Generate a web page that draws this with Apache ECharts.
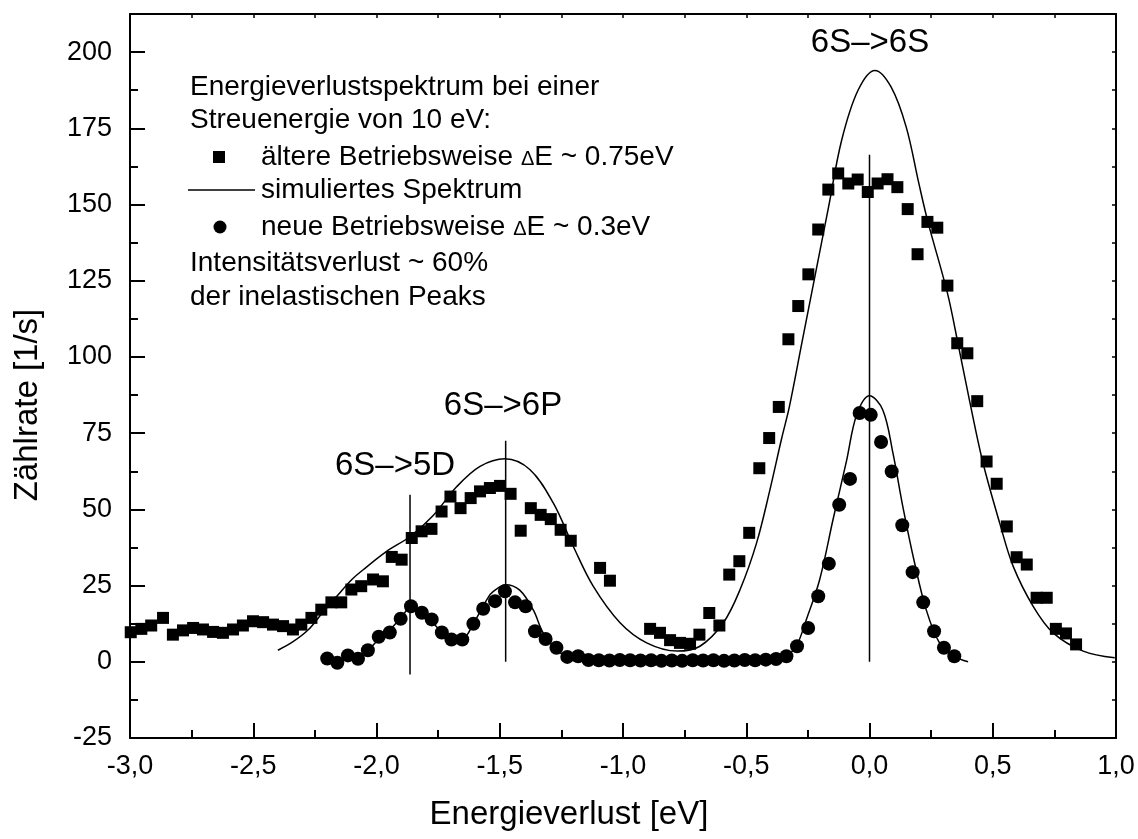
<!DOCTYPE html>
<html>
<head>
<meta charset="utf-8">
<script src="https://cdn.jsdelivr.net/npm/echarts@6.0.0/dist/echarts.min.js"></script>
<style>
  html, body { margin: 0; padding: 0; background: #ffffff; }
  #chart { width: 1138px; height: 839px; }
</style>
</head>
<body>
<div id="chart"></div>
<script>
// Messpunkte, ältere Betriebsweise (ΔE ~ 0.75 eV), Quadrate
const oldX = [-2.997, -2.954, -2.914, -2.866, -2.826, -2.785, -2.744, -2.704, -2.663, -2.623,
  -2.582, -2.542, -2.501, -2.460, -2.420, -2.379, -2.339, -2.305, -2.264, -2.224,
  -2.183, -2.143, -2.102, -2.062, -2.014, -1.974, -1.938, -1.898, -1.857, -1.817,
  -1.777, -1.736, -1.700, -1.659, -1.618, -1.580, -1.540, -1.499, -1.456, -1.415,
  -1.374, -1.334, -1.293, -1.253, -1.212, -1.093, -1.053, -0.890, -0.850, -0.809,
  -0.769, -0.728, -0.690, -0.650, -0.609, -0.569, -0.528, -0.488, -0.447, -0.407,
  -0.368, -0.329, -0.289, -0.248, -0.208, -0.167, -0.127, -0.086, -0.048, -0.007,
  0.033, 0.073, 0.113, 0.155, 0.195, 0.235, 0.275, 0.316, 0.356, 0.397,
  0.437, 0.475, 0.516, 0.557, 0.597, 0.638, 0.678, 0.719, 0.756, 0.797, 0.838];
const oldY = [9.7, 10.8, 11.9, 14.4, 8.9, 10.3, 11.1, 10.6, 9.8, 9.5,
  10.6, 11.9, 13.3, 13.0, 12.2, 11.7, 10.6, 12.2, 14.4, 17.1,
  19.5, 19.5, 23.7, 24.8, 27.0, 26.4, 34.4, 33.5, 40.6, 42.8,
  43.6, 49.3, 54.2, 50.4, 53.7, 55.9, 57.0, 57.7, 55.1, 43.0,
  50.4, 48.2, 46.8, 43.3, 39.7, 30.8, 26.6, 10.8, 9.5, 7.1,
  6.2, 5.9, 8.9, 16.0, 11.9, 28.6, 33.0, 42.3, 63.5, 73.4,
  83.6, 105.8, 116.7, 127.1, 141.8, 154.9, 160.2, 156.9, 158.2, 154.1,
  156.9, 158.3, 155.7, 148.5, 133.7, 144.3, 142.4, 123.4, 104.5, 101.2,
  85.5, 65.7, 58.4, 44.4, 34.3, 31.9, 21.0, 21.0, 10.8, 9.3, 5.7];

// Messpunkte, neue Betriebsweise (ΔE ~ 0.3 eV), Kreise
const newX = [-2.200, -2.159, -2.116, -2.075, -2.035, -1.991, -1.946, -1.902, -1.860, -1.816,
  -1.776, -1.735, -1.696, -1.652, -1.607, -1.567, -1.519, -1.479, -1.438, -1.395,
  -1.357, -1.314, -1.270, -1.226, -1.182, -1.140, -1.098, -1.055, -1.013, -0.971,
  -0.929, -0.886, -0.844, -0.802, -0.760, -0.717, -0.675, -0.633, -0.590, -0.548,
  -0.506, -0.464, -0.421, -0.379, -0.337, -0.294, -0.249, -0.208, -0.165, -0.123,
  -0.079, -0.040, 0.005, 0.047, 0.090, 0.133, 0.175, 0.218, 0.262, 0.302, 0.344];
const newY = [1.1, -0.3, 2.1, 1.0, 3.8, 8.2, 9.6, 14.1, 18.2, 16.1,
  13.9, 9.6, 7.3, 7.3, 12.5, 17.4, 19.9, 23.1, 19.5, 18.2,
  10.0, 7.5, 4.6, 1.6, 1.8, 0.6, 0.5, 0.4, 0.6, 0.5,
  0.4, 0.5, 0.3, 0.4, 0.3, 0.5, 0.4, 0.5, 0.3, 0.4,
  0.6, 0.5, 0.7, 0.9, 1.8, 5.1, 11.1, 21.5, 32.2, 51.5,
  60.0, 81.6, 81.0, 72.1, 62.4, 44.8, 29.4, 19.5, 10.0, 4.6, 1.8];

// simuliertes Spektrum zur älteren Betriebsweise
const simOldX = [-2.400, -2.340, -2.278, -2.220, -2.161, -2.100, -2.054, -1.959, -1.864, -1.770,
  -1.675, -1.580, -1.479, -1.377, -1.283, -1.202, -1.121, -1.012, -0.904, -0.780,
  -0.688, -0.593, -0.525, -0.458, -0.404, -0.356, -0.325, -0.272, -0.219, -0.166,
  -0.113, -0.047, 0.022, 0.088, 0.149, 0.200, 0.237, 0.316, 0.360, 0.405,
  0.459, 0.530, 0.583, 0.664, 0.745, 0.867, 0.995];
const simOldY = [3.8, 6.5, 10.4, 16.0, 21.5, 27.0, 30.2, 36.2, 41.1, 48.0,
  57.4, 64.1, 66.6, 63.0, 52.1, 37.9, 24.8, 12.8, 6.2, 3.5,
  5.1, 12.8, 23.7, 39.0, 56.4, 73.4, 83.7, 105.6, 127.4, 149.2,
  171.1, 187.4, 194.0, 188.5, 175.4, 157.0, 144.3, 121.0, 104.0, 86.0,
  65.7, 45.0, 31.3, 18.2, 9.5, 3.5, 1.3];

// simuliertes Spektrum zur neuen Betriebsweise
const simNewX = [-2.200, -2.120, -2.040, -1.990, -1.940, -1.900, -1.860, -1.820, -1.780, -1.735,
  -1.690, -1.650, -1.607, -1.548, -1.527, -1.476, -1.419, -1.364, -1.324, -1.270,
  -1.229, -1.180, -1.100, -0.900, -0.700, -0.500, -0.380, -0.337, -0.297, -0.256,
  -0.202, -0.147, -0.093, -0.052, 0.000, 0.054, 0.095, 0.135, 0.183, 0.230,
  0.284, 0.345, 0.400];
const simNewY = [0.5, 1.0, 3.5, 7.5, 11.0, 14.5, 18.0, 16.5, 13.5, 9.8,
  7.3, 7.5, 12.5, 21.0, 23.0, 25.3, 23.5, 17.0, 9.5, 4.0,
  1.8, 0.8, 0.4, 0.4, 0.4, 0.5, 0.9, 2.0, 5.1, 13.9,
  27.0, 47.0, 66.0, 81.0, 87.3, 82.6, 68.5, 51.0, 32.4, 17.1,
  6.2, 1.8, 0.0];

// Lage der Übergänge (senkrechte Markierungen)
const peakNames = ['6S\u2013>5D', '6S\u2013>6P', '6S\u2013>6S'];
const peakPos = [-1.864, -1.476, 0.0];
const peakLineBottom = [-4.2, 0.0, 0.0];
const peakLineTop = [54.8, 72.5, 166.3];

// Achsen
const xMin = -3, xMax = 1, xStep = 0.5;
const yMin = -25, yMax = 212.5, yStep = 25;

const FONT = '"Liberation Sans", Arial, Helvetica, sans-serif';
const zip = (xs, ys) => xs.map((x, i) => [x, ys[i]]);
const isMult = (v, step) => Math.abs(v / step - Math.round(v / step)) < 1e-6;
const fmtX = v => isMult(v, xStep) ? (Math.round(v * 10) / 10).toFixed(1).replace('.', ',') : '';
const fmtY = v => isMult(v, yStep) ? String(Math.round(v)) : '';

const black = '#000000';
const axisLine = { show: true, onZero: false, lineStyle: { color: black, width: 2 } };

const vlineSeries = peakPos.map((x, i) => ({
  type: 'line',
  xAxisIndex: 0, yAxisIndex: 0,
  data: [[x, peakLineBottom[i]], [x, peakLineTop[i]]],
  symbol: 'none',
  lineStyle: { color: black, width: 1.5 },
  silent: true, z: 2
}));

// Text der Beschriftung links oben
const legendLines = [
  { kind: 'text', text: 'Energieverlustspektrum bei einer', y: 87 },
  { kind: 'text', text: 'Streuenergie von 10 eV:', y: 120 },
  { kind: 'square', text: '{t|\u00e4ltere Betriebsweise }{d|\u0394}{t|E ~ 0.75eV}', y: 157 },
  { kind: 'line', text: 'simuliertes Spektrum', y: 190 },
  { kind: 'circle', text: '{t|neue Betriebsweise }{d|\u0394}{t|E ~ 0.3eV}', y: 227 },
  { kind: 'text', text: 'Intensit\u00e4tsverlust ~ 60%', y: 263 },
  { kind: 'text', text: 'der inelastischen Peaks', y: 297 }
];

const legendFont = 28;
const graphics = [];
legendLines.forEach(l => {
  const rich = l.kind === 'square' || l.kind === 'circle';
  const tx = l.kind === 'text' ? 190 : 261;
  graphics.push({
    type: 'text', x: tx, y: rich ? l.y - 2 : l.y, silent: true,
    style: {
      text: l.text, fontSize: legendFont, fontFamily: FONT, fill: black,
      align: 'left', verticalAlign: 'middle',
      rich: {
        t: { fontSize: legendFont, fontFamily: FONT, fill: black, lineHeight: 32, verticalAlign: 'bottom' },
        d: { fontSize: 20, fontFamily: FONT, fill: black, lineHeight: 32, verticalAlign: 'bottom', padding: [0, 0, 2, 0] }
      }
    }
  });
  if (l.kind === 'square') {
    graphics.push({ type: 'rect', silent: true, shape: { x: 213, y: l.y - 6, width: 12, height: 12 }, style: { fill: black } });
  } else if (l.kind === 'circle') {
    graphics.push({ type: 'circle', silent: true, shape: { cx: 220, cy: l.y, r: 6.5 }, style: { fill: black } });
  } else if (l.kind === 'line') {
    graphics.push({ type: 'line', silent: true, shape: { x1: 188, y1: l.y, x2: 255, y2: l.y }, style: { stroke: black, lineWidth: 1.5 } });
  }
});

// Übergangsbezeichnungen
const peakLabelPix = [[395, 466], [503, 406], [870, 43]];
peakNames.forEach((t, i) => {
  graphics.push({
    type: 'text', x: peakLabelPix[i][0], y: peakLabelPix[i][1], silent: true,
    style: { text: t, fontSize: 33, fontFamily: FONT, fill: black, align: 'center', verticalAlign: 'middle' }
  });
});

// Achsentitel
graphics.push({
  type: 'text', x: 28, y: 405, rotation: Math.PI / 2, silent: true,
  style: { text: 'Z\u00e4hlrate [1/s]', fontSize: 33, fontFamily: FONT, fill: black, align: 'center', verticalAlign: 'middle' }
});
graphics.push({
  type: 'text', x: 569, y: 815, silent: true,
  style: { text: 'Energieverlust [eV]', fontSize: 33, fontFamily: FONT, fill: black, align: 'center', verticalAlign: 'middle' }
});

const option = {
  animation: false,
  backgroundColor: '#ffffff',
  grid: { left: 130, right: 22, top: 14, bottom: 101, containLabel: false },
  xAxis: [
    {
      type: 'value', position: 'bottom', min: xMin, max: xMax, interval: xStep,
      axisLine: axisLine,
      axisTick: { show: true, inside: true, length: 15, lineStyle: { color: black, width: 2 } },
      minorTick: { show: true, splitNumber: 2, length: 8, lineStyle: { color: black, width: 2 } },
      axisLabel: { formatter: fmtX, fontSize: 27, fontFamily: FONT, color: black, margin: 15, showMinLabel: true, showMaxLabel: true },
      splitLine: { show: false }, minorSplitLine: { show: false }
    },
    {
      type: 'value', position: 'top', min: xMin, max: xMax, interval: xStep / 2,
      axisLine: axisLine,
      axisTick: { show: true, inside: true, length: 4, lineStyle: { color: black, width: 1.5 } },
      axisLabel: { show: false }, splitLine: { show: false }
    }
  ],
  yAxis: [
    {
      type: 'value', position: 'left', min: yMin, max: yMax, interval: yStep / 2,
      axisLine: axisLine,
      axisTick: { show: true, inside: true, length: 8, lineStyle: { color: black, width: 2 } },
      axisLabel: { formatter: fmtY, fontSize: 27, fontFamily: FONT, color: black, margin: 18 },
      splitLine: { show: false }
    },
    {
      type: 'value', position: 'left', min: yMin, max: yMax, interval: yStep,
      axisLine: { show: false, onZero: false },
      axisTick: { show: true, inside: true, length: 15, lineStyle: { color: black, width: 2 } },
      axisLabel: { show: false }, splitLine: { show: false }
    },
    {
      type: 'value', position: 'right', min: yMin, max: yMax, interval: yStep / 2,
      axisLine: axisLine,
      axisTick: { show: true, inside: true, length: 4, lineStyle: { color: black, width: 1.5 } },
      axisLabel: { show: false }, splitLine: { show: false }
    }
  ],
  series: [
    {
      name: 'simuliertes Spektrum (alt)', type: 'line', xAxisIndex: 0, yAxisIndex: 0,
      data: zip(simOldX, simOldY), smooth: 0.35, symbol: 'none',
      lineStyle: { color: black, width: 1.5 }, z: 2, silent: true
    },
    {
      name: 'simuliertes Spektrum (neu)', type: 'line', xAxisIndex: 0, yAxisIndex: 0,
      data: zip(simNewX, simNewY), smooth: 0.35, symbol: 'none',
      lineStyle: { color: black, width: 1.5 }, z: 2, silent: true
    },
    ...vlineSeries,
    {
      name: '\u00e4ltere Betriebsweise', type: 'scatter', xAxisIndex: 0, yAxisIndex: 0,
      data: zip(oldX, oldY), symbol: 'rect', symbolSize: 12,
      itemStyle: { color: black, opacity: 1 }, z: 3, silent: true
    },
    {
      name: 'neue Betriebsweise', type: 'scatter', xAxisIndex: 0, yAxisIndex: 0,
      data: zip(newX, newY), symbol: 'circle', symbolSize: 14,
      itemStyle: { color: black, opacity: 1 }, z: 3, silent: true
    }
  ],
  graphic: graphics
};

const chart = echarts.init(document.getElementById('chart'), null, { renderer: 'canvas' });
chart.setOption(option);
</script>
</body>
</html>
